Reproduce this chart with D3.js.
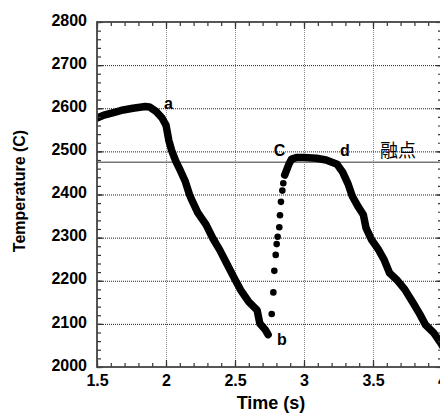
<!DOCTYPE html>
<html>
<head>
<meta charset="utf-8">
<script src="https://cdn.jsdelivr.net/npm/d3@7"></script>
<style>
  body { margin: 0; background: #fff; }
  svg text { font-family: Arial, "Liberation Sans", sans-serif; font-weight: bold; }
</style>
</head>
<body>
<div id="chart"></div>
<script>
var svgWidth = 440;
var svgHeight = 414;

// cooling from a, down to b
var coolTime = [1.50, 1.55, 1.62, 1.69, 1.76, 1.85, 1.88, 1.93, 1.97, 2.00, 2.01, 2.02, 2.04, 2.07, 2.10, 2.14, 2.17, 2.19, 2.23, 2.29, 2.34, 2.39, 2.44, 2.49, 2.54, 2.60, 2.66, 2.68, 2.72, 2.74];
var coolTemp = [2577, 2584, 2590, 2596, 2600, 2604, 2603, 2592, 2578, 2561, 2544, 2526, 2503, 2478, 2458, 2430, 2400, 2385, 2358, 2330, 2298, 2271, 2240, 2209, 2179, 2151, 2132, 2101, 2086, 2075];

// fast rise b -> C (sparse points)
var riseTime = [2.766, 2.778, 2.785, 2.795, 2.802, 2.809, 2.821, 2.826, 2.833, 2.843, 2.850];
var riseTemp = [2123, 2173, 2223, 2260, 2285, 2302, 2324, 2352, 2383, 2409, 2426];

// plateau C -> d and cooling after
var holdTime = [2.86, 2.89, 2.91, 2.95, 3.00, 3.09, 3.16, 3.24, 3.28, 3.32, 3.35, 3.39, 3.43, 3.45, 3.49, 3.54, 3.58, 3.62, 3.67, 3.73, 3.79, 3.84, 3.88, 3.94, 3.99, 4.02];
var holdTemp = [2445, 2470, 2482, 2486, 2486, 2484, 2480, 2470, 2452, 2424, 2396, 2373, 2353, 2322, 2295, 2272, 2249, 2218, 2203, 2180, 2149, 2122, 2098, 2079, 2056, 2040];

var meltTemp = 2475;
var xTicks = [1.5, 2, 2.5, 3, 3.5, 4];
var yTicks = [2000, 2100, 2200, 2300, 2400, 2500, 2600, 2700, 2800];

var labels = [
  { text: "a", t: 1.985, v: 2598 },
  { text: "b", t: 2.805, v: 2050 },
  { text: "C", t: 2.78, v: 2490 },
  { text: "d", t: 3.26, v: 2490 },
  { text: "融点", t: 3.55, v: 2488 }
];

var padL = 97, padR = 442, padT = 22, padB = 367;

var svg = d3.select("#chart")
  .append("svg")
  .attr("width", svgWidth)
  .attr("height", svgHeight);

var xScale = d3.scaleLinear().domain([1.5, 4]).range([padL, padR]);
var yScale = d3.scaleLinear().domain([2000, 2800]).range([padB, padT]);

svg.append("defs").append("clipPath").attr("id", "plot")
  .append("rect")
  .attr("x", padL).attr("y", padT)
  .attr("width", padR - padL).attr("height", padB - padT);

// grid
svg.append("g")
  .attr("transform", "translate(0," + padB + ")")
  .call(d3.axisBottom(xScale).tickValues([2, 2.5, 3, 3.5]).tickSize(-(padB - padT)).tickFormat(""))
  .call(function(g) {
    g.select(".domain").remove();
    g.selectAll("line").attr("stroke", "#888").attr("stroke-dasharray", "1,1");
  });
svg.append("g")
  .attr("transform", "translate(" + padL + ",0)")
  .call(d3.axisLeft(yScale).tickValues(yTicks.slice(1, -1)).tickSize(-(padR - padL)).tickFormat(""))
  .call(function(g) {
    g.select(".domain").remove();
    g.selectAll("line").attr("stroke", "#222").attr("stroke-dasharray", "1,1");
  });

// melting point line
svg.append("line")
  .attr("x1", padL).attr("x2", padR)
  .attr("y1", yScale(meltTemp)).attr("y2", yScale(meltTemp))
  .attr("stroke", "#777")
  .attr("stroke-width", 1.5);

// data
var line = d3.line()
  .x(function(d) { return xScale(d[0]); })
  .y(function(d) { return yScale(d[1]); });

var plot = svg.append("g").attr("clip-path", "url(#plot)");

[[coolTime, coolTemp], [holdTime, holdTemp]].forEach(function(s) {
  plot.append("path")
    .datum(d3.zip(s[0], s[1]))
    .attr("d", line)
    .attr("fill", "none")
    .attr("stroke", "#000")
    .attr("stroke-width", 7.5)
    .attr("stroke-linejoin", "round")
    .attr("stroke-linecap", "round");
});

plot.selectAll("circle")
  .data(d3.zip(riseTime, riseTemp))
  .enter()
  .append("circle")
  .attr("cx", function(d) { return xScale(d[0]); })
  .attr("cy", function(d) { return yScale(d[1]); })
  .attr("r", 3.3)
  .attr("fill", "#000");

// axes with inward ticks
var minorX = d3.range(15, 41).map(function(d) { return d / 10; });
var minorY = d3.range(2000, 2801, 20);

function frameAxis(axis, pos, ticks, size) {
  var g = svg.append("g").attr("transform", pos).call(axis.tickValues(ticks).tickSize(size).tickFormat(""));
  g.select(".domain").remove();
  g.selectAll("line").attr("stroke", "#333").attr("stroke-width", 1.2);
}
frameAxis(d3.axisBottom(xScale), "translate(0," + padB + ")", minorX, -4);
frameAxis(d3.axisBottom(xScale), "translate(0," + padB + ")", xTicks, -7);
frameAxis(d3.axisTop(xScale), "translate(0," + padT + ")", minorX, -4);
frameAxis(d3.axisTop(xScale), "translate(0," + padT + ")", xTicks, -7);
frameAxis(d3.axisLeft(yScale), "translate(" + padL + ",0)", minorY, -4);
frameAxis(d3.axisLeft(yScale), "translate(" + padL + ",0)", yTicks, -6);
frameAxis(d3.axisRight(yScale), "translate(" + padR + ",0)", minorY, -4);
frameAxis(d3.axisRight(yScale), "translate(" + padR + ",0)", yTicks, -6);

svg.append("rect")
  .attr("x", padL).attr("y", padT)
  .attr("width", padR - padL).attr("height", padB - padT)
  .attr("fill", "none")
  .attr("stroke", "#444")
  .attr("stroke-width", 1.8);

// tick labels
svg.append("g")
  .attr("transform", "translate(0," + padB + ")")
  .call(d3.axisBottom(xScale).tickValues(xTicks).tickSize(0).tickPadding(8).tickFormat(d3.format("")))
  .call(function(g) {
    g.select(".domain").remove();
    g.selectAll("text").attr("font-size", 16).attr("fill", "#000")
      .attr("font-family", "Arial, 'Liberation Sans', sans-serif").attr("font-weight", "bold");
  });
svg.append("g")
  .attr("transform", "translate(" + padL + ",0)")
  .call(d3.axisLeft(yScale).tickValues(yTicks).tickSize(0).tickPadding(10).tickFormat(d3.format("")))
  .call(function(g) {
    g.select(".domain").remove();
    g.selectAll("text").attr("font-size", 16).attr("fill", "#000").attr("dy", "0.2em")
      .attr("font-family", "Arial, 'Liberation Sans', sans-serif").attr("font-weight", "bold");
  });

// axis titles
svg.append("text")
  .attr("x", 271).attr("y", 409)
  .attr("text-anchor", "middle")
  .attr("font-size", 18)
  .text("Time (s)");

svg.append("text")
  .attr("transform", "translate(25,191) rotate(-90)")
  .attr("text-anchor", "middle")
  .attr("font-size", 16)
  .text("Temperature (C)");

// point labels
svg.selectAll(".pt")
  .data(labels)
  .enter()
  .append("text")
  .attr("class", "pt")
  .attr("x", function(d) { return xScale(d.t); })
  .attr("y", function(d) { return yScale(d.v); })
  .attr("font-size", function(d) { return d.text === "融点" ? 18 : 16; })
  .style("font-weight", function(d) { return d.text === "融点" ? "normal" : "bold"; })
  .style("font-family", function(d) { return d.text === "融点" ? "'Noto Sans CJK JP', sans-serif" : null; })
  .text(function(d) { return d.text; });
</script>
</body>
</html>
